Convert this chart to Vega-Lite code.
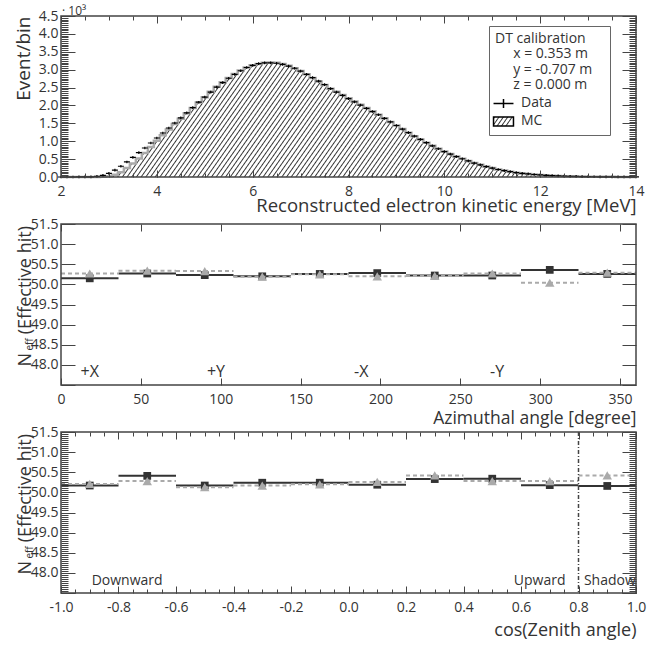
{
"$schema":"https://vega.github.io/schema/vega-lite/v6.json",
"background":"white",
"padding":{"left":14,"top":5,"right":5,"bottom":5},
"datasets":{
"energy":[
{"e":2,"MC":0,"Data":0},{"e":2.125,"MC":0,"Data":0},{"e":2.25,"MC":0,"Data":0},{"e":2.375,"MC":0,"Data":0.001},{"e":2.5,"MC":0,"Data":0.002},{"e":2.625,"MC":0.001,"Data":0.005},{"e":2.75,"MC":0.002,"Data":0.015},{"e":2.875,"MC":0.008,"Data":0.045},
{"e":3,"MC":0.02,"Data":0.1},{"e":3.125,"MC":0.06,"Data":0.19},{"e":3.25,"MC":0.13,"Data":0.3},{"e":3.375,"MC":0.25,"Data":0.42},{"e":3.5,"MC":0.38,"Data":0.55},{"e":3.625,"MC":0.52,"Data":0.68},{"e":3.75,"MC":0.67,"Data":0.81},{"e":3.875,"MC":0.84,"Data":0.95},
{"e":4,"MC":1.01,"Data":1.09},{"e":4.125,"MC":1.17,"Data":1.23},{"e":4.25,"MC":1.33,"Data":1.37},{"e":4.375,"MC":1.48,"Data":1.51},{"e":4.5,"MC":1.63,"Data":1.65},{"e":4.625,"MC":1.78,"Data":1.79},{"e":4.75,"MC":1.93,"Data":1.94},{"e":4.875,"MC":2.08,"Data":2.09},
{"e":5,"MC":2.23,"Data":2.23},{"e":5.125,"MC":2.38,"Data":2.37},{"e":5.25,"MC":2.52,"Data":2.51},{"e":5.375,"MC":2.65,"Data":2.64},{"e":5.5,"MC":2.77,"Data":2.76},{"e":5.625,"MC":2.88,"Data":2.87},{"e":5.75,"MC":2.98,"Data":2.97},{"e":5.875,"MC":3.06,"Data":3.06},
{"e":6,"MC":3.12,"Data":3.12},{"e":6.125,"MC":3.16,"Data":3.17},{"e":6.25,"MC":3.19,"Data":3.19},{"e":6.375,"MC":3.2,"Data":3.19},{"e":6.5,"MC":3.19,"Data":3.18},{"e":6.625,"MC":3.16,"Data":3.15},{"e":6.75,"MC":3.11,"Data":3.1},{"e":6.875,"MC":3.04,"Data":3.04},
{"e":7,"MC":2.96,"Data":2.96},{"e":7.125,"MC":2.87,"Data":2.87},{"e":7.25,"MC":2.77,"Data":2.78},{"e":7.375,"MC":2.67,"Data":2.68},{"e":7.5,"MC":2.57,"Data":2.58},{"e":7.625,"MC":2.47,"Data":2.47},{"e":7.75,"MC":2.38,"Data":2.37},{"e":7.875,"MC":2.29,"Data":2.28},
{"e":8,"MC":2.2,"Data":2.19},{"e":8.125,"MC":2.11,"Data":2.1},{"e":8.25,"MC":2.02,"Data":2.01},{"e":8.375,"MC":1.93,"Data":1.92},{"e":8.5,"MC":1.84,"Data":1.83},{"e":8.625,"MC":1.74,"Data":1.74},{"e":8.75,"MC":1.64,"Data":1.64},{"e":8.875,"MC":1.54,"Data":1.54},
{"e":9,"MC":1.44,"Data":1.44},{"e":9.125,"MC":1.34,"Data":1.34},{"e":9.25,"MC":1.24,"Data":1.24},{"e":9.375,"MC":1.14,"Data":1.14},{"e":9.5,"MC":1.05,"Data":1.05},{"e":9.625,"MC":0.96,"Data":0.96},{"e":9.75,"MC":0.87,"Data":0.87},{"e":9.875,"MC":0.79,"Data":0.79},
{"e":10,"MC":0.71,"Data":0.71},{"e":10.125,"MC":0.64,"Data":0.64},{"e":10.25,"MC":0.57,"Data":0.57},{"e":10.375,"MC":0.51,"Data":0.51},{"e":10.5,"MC":0.45,"Data":0.45},{"e":10.625,"MC":0.39,"Data":0.39},{"e":10.75,"MC":0.34,"Data":0.34},{"e":10.875,"MC":0.29,"Data":0.29},
{"e":11,"MC":0.25,"Data":0.25},{"e":11.125,"MC":0.21,"Data":0.21},{"e":11.25,"MC":0.18,"Data":0.18},{"e":11.375,"MC":0.15,"Data":0.15},{"e":11.5,"MC":0.12,"Data":0.12},{"e":11.625,"MC":0.1,"Data":0.1},{"e":11.75,"MC":0.085,"Data":0.085},{"e":11.875,"MC":0.07,"Data":0.07},
{"e":12,"MC":0.057,"Data":0.057},{"e":12.125,"MC":0.047,"Data":0.046},{"e":12.25,"MC":0.037,"Data":0.037},{"e":12.375,"MC":0.03,"Data":0.03},{"e":12.5,"MC":0.024,"Data":0.024},{"e":12.625,"MC":0.019,"Data":0.019},{"e":12.75,"MC":0.015,"Data":0.015},{"e":12.875,"MC":0.012,"Data":0.012},
{"e":13,"MC":0.009,"Data":0.009},{"e":13.125,"MC":0.007,"Data":0.007},{"e":13.25,"MC":0.006,"Data":0.006},{"e":13.375,"MC":0.005,"Data":0.005},{"e":13.5,"MC":0.004,"Data":0.004},{"e":13.625,"MC":0.003,"Data":0.003},{"e":13.75,"MC":0.003,"Data":0.003},{"e":13.875,"MC":0.002,"Data":0.002},{"e":14,"MC":0.002,"Data":0.002}
],
"phi":[
{"lo":0,"hi":36,"c":18,"Data":50.15,"MC":50.27},
{"lo":36,"hi":72,"c":54,"Data":50.27,"MC":50.34},
{"lo":72,"hi":108,"c":90,"Data":50.23,"MC":50.33},
{"lo":108,"hi":144,"c":126,"Data":50.2,"MC":50.19},
{"lo":144,"hi":180,"c":162,"Data":50.26,"MC":50.25},
{"lo":180,"hi":216,"c":198,"Data":50.28,"MC":50.2},
{"lo":216,"hi":252,"c":234,"Data":50.22,"MC":50.21},
{"lo":252,"hi":288,"c":270,"Data":50.22,"MC":50.27},
{"lo":288,"hi":324,"c":306,"Data":50.36,"MC":50.04},
{"lo":324,"hi":360,"c":342,"Data":50.26,"MC":50.29}
],
"cosz":[
{"lo":-1,"hi":-0.8,"c":-0.9,"Data":50.17,"MC":50.21},
{"lo":-0.8,"hi":-0.6,"c":-0.7,"Data":50.41,"MC":50.28},
{"lo":-0.6,"hi":-0.4,"c":-0.5,"Data":50.17,"MC":50.13},
{"lo":-0.4,"hi":-0.2,"c":-0.3,"Data":50.24,"MC":50.17},
{"lo":-0.2,"hi":0,"c":-0.1,"Data":50.24,"MC":50.2},
{"lo":0,"hi":0.2,"c":0.1,"Data":50.19,"MC":50.26},
{"lo":0.2,"hi":0.4,"c":0.3,"Data":50.33,"MC":50.42},
{"lo":0.4,"hi":0.6,"c":0.5,"Data":50.34,"MC":50.28},
{"lo":0.6,"hi":0.8,"c":0.7,"Data":50.18,"MC":50.28},
{"lo":0.8,"hi":1,"c":0.9,"Data":50.16,"MC":50.42}
],
"phiLab":[{"t":"+X","pos":18},{"t":"+Y","pos":97},{"t":"-X","pos":188},{"t":"-Y","pos":273}],
"czLab":[{"t":"Downward","pos":-0.77},{"t":"Upward","pos":0.665},{"t":"Shadow","pos":0.909}],
"cut":[{"cz":0.8}]
},
"vconcat":[
{
"width":575,"height":161,
"data":{"name":"energy"},
"layer":[
{"mark":{"type":"area","interpolate":"step","opacity":1,
"fill":{"gradient":"linear","x1":0,"y1":0,"x2":1,"y2":0.14,"stops":[
{"offset":0,"color":"#fff"},{"offset":0.002,"color":"#333"},{"offset":0.004,"color":"#fff"},
{"offset":0.008,"color":"#fff"},{"offset":0.01,"color":"#333"},{"offset":0.012,"color":"#fff"},
{"offset":0.016,"color":"#fff"},{"offset":0.018,"color":"#333"},{"offset":0.02,"color":"#fff"},
{"offset":0.024,"color":"#fff"},{"offset":0.026,"color":"#333"},{"offset":0.028,"color":"#fff"},
{"offset":0.032,"color":"#fff"},{"offset":0.034,"color":"#333"},{"offset":0.036,"color":"#fff"},
{"offset":0.04,"color":"#fff"},{"offset":0.042,"color":"#333"},{"offset":0.044,"color":"#fff"},
{"offset":0.048,"color":"#fff"},{"offset":0.05,"color":"#333"},{"offset":0.052,"color":"#fff"},
{"offset":0.056,"color":"#fff"},{"offset":0.058,"color":"#333"},{"offset":0.06,"color":"#fff"},
{"offset":0.064,"color":"#fff"},{"offset":0.066,"color":"#333"},{"offset":0.068,"color":"#fff"},
{"offset":0.072,"color":"#fff"},{"offset":0.074,"color":"#333"},{"offset":0.076,"color":"#fff"},
{"offset":0.08,"color":"#fff"},{"offset":0.082,"color":"#333"},{"offset":0.084,"color":"#fff"},
{"offset":0.088,"color":"#fff"},{"offset":0.09,"color":"#333"},{"offset":0.092,"color":"#fff"},
{"offset":0.096,"color":"#fff"},{"offset":0.098,"color":"#333"},{"offset":0.1,"color":"#fff"},
{"offset":0.104,"color":"#fff"},{"offset":0.106,"color":"#333"},{"offset":0.108,"color":"#fff"},
{"offset":0.112,"color":"#fff"},{"offset":0.114,"color":"#333"},{"offset":0.116,"color":"#fff"},
{"offset":0.12,"color":"#fff"},{"offset":0.122,"color":"#333"},{"offset":0.124,"color":"#fff"},
{"offset":0.128,"color":"#fff"},{"offset":0.13,"color":"#333"},{"offset":0.132,"color":"#fff"},
{"offset":0.136,"color":"#fff"},{"offset":0.138,"color":"#333"},{"offset":0.14,"color":"#fff"},
{"offset":0.144,"color":"#fff"},{"offset":0.146,"color":"#333"},{"offset":0.148,"color":"#fff"},
{"offset":0.152,"color":"#fff"},{"offset":0.154,"color":"#333"},{"offset":0.156,"color":"#fff"},
{"offset":0.16,"color":"#fff"},{"offset":0.162,"color":"#333"},{"offset":0.164,"color":"#fff"},
{"offset":0.168,"color":"#fff"},{"offset":0.17,"color":"#333"},{"offset":0.172,"color":"#fff"},
{"offset":0.176,"color":"#fff"},{"offset":0.178,"color":"#333"},{"offset":0.18,"color":"#fff"},
{"offset":0.184,"color":"#fff"},{"offset":0.186,"color":"#333"},{"offset":0.188,"color":"#fff"},
{"offset":0.192,"color":"#fff"},{"offset":0.194,"color":"#333"},{"offset":0.196,"color":"#fff"},
{"offset":0.2,"color":"#fff"},{"offset":0.202,"color":"#333"},{"offset":0.204,"color":"#fff"},
{"offset":0.208,"color":"#fff"},{"offset":0.21,"color":"#333"},{"offset":0.212,"color":"#fff"},
{"offset":0.216,"color":"#fff"},{"offset":0.218,"color":"#333"},{"offset":0.22,"color":"#fff"},
{"offset":0.224,"color":"#fff"},{"offset":0.226,"color":"#333"},{"offset":0.228,"color":"#fff"},
{"offset":0.232,"color":"#fff"},{"offset":0.234,"color":"#333"},{"offset":0.236,"color":"#fff"},
{"offset":0.24,"color":"#fff"},{"offset":0.242,"color":"#333"},{"offset":0.244,"color":"#fff"},
{"offset":0.248,"color":"#fff"},{"offset":0.25,"color":"#333"},{"offset":0.252,"color":"#fff"},
{"offset":0.256,"color":"#fff"},{"offset":0.258,"color":"#333"},{"offset":0.26,"color":"#fff"},
{"offset":0.264,"color":"#fff"},{"offset":0.266,"color":"#333"},{"offset":0.268,"color":"#fff"},
{"offset":0.272,"color":"#fff"},{"offset":0.274,"color":"#333"},{"offset":0.276,"color":"#fff"},
{"offset":0.28,"color":"#fff"},{"offset":0.282,"color":"#333"},{"offset":0.284,"color":"#fff"},
{"offset":0.288,"color":"#fff"},{"offset":0.29,"color":"#333"},{"offset":0.292,"color":"#fff"},
{"offset":0.296,"color":"#fff"},{"offset":0.298,"color":"#333"},{"offset":0.3,"color":"#fff"},
{"offset":0.304,"color":"#fff"},{"offset":0.306,"color":"#333"},{"offset":0.308,"color":"#fff"},
{"offset":0.312,"color":"#fff"},{"offset":0.314,"color":"#333"},{"offset":0.316,"color":"#fff"},
{"offset":0.32,"color":"#fff"},{"offset":0.322,"color":"#333"},{"offset":0.324,"color":"#fff"},
{"offset":0.328,"color":"#fff"},{"offset":0.33,"color":"#333"},{"offset":0.332,"color":"#fff"},
{"offset":0.336,"color":"#fff"},{"offset":0.338,"color":"#333"},{"offset":0.34,"color":"#fff"},
{"offset":0.344,"color":"#fff"},{"offset":0.346,"color":"#333"},{"offset":0.348,"color":"#fff"},
{"offset":0.352,"color":"#fff"},{"offset":0.354,"color":"#333"},{"offset":0.356,"color":"#fff"},
{"offset":0.36,"color":"#fff"},{"offset":0.362,"color":"#333"},{"offset":0.364,"color":"#fff"},
{"offset":0.368,"color":"#fff"},{"offset":0.37,"color":"#333"},{"offset":0.372,"color":"#fff"},
{"offset":0.376,"color":"#fff"},{"offset":0.378,"color":"#333"},{"offset":0.38,"color":"#fff"},
{"offset":0.384,"color":"#fff"},{"offset":0.386,"color":"#333"},{"offset":0.388,"color":"#fff"},
{"offset":0.392,"color":"#fff"},{"offset":0.394,"color":"#333"},{"offset":0.396,"color":"#fff"},
{"offset":0.4,"color":"#fff"},{"offset":0.402,"color":"#333"},{"offset":0.404,"color":"#fff"},
{"offset":0.408,"color":"#fff"},{"offset":0.41,"color":"#333"},{"offset":0.412,"color":"#fff"},
{"offset":0.416,"color":"#fff"},{"offset":0.418,"color":"#333"},{"offset":0.42,"color":"#fff"},
{"offset":0.424,"color":"#fff"},{"offset":0.426,"color":"#333"},{"offset":0.428,"color":"#fff"},
{"offset":0.432,"color":"#fff"},{"offset":0.434,"color":"#333"},{"offset":0.436,"color":"#fff"},
{"offset":0.44,"color":"#fff"},{"offset":0.442,"color":"#333"},{"offset":0.444,"color":"#fff"},
{"offset":0.448,"color":"#fff"},{"offset":0.45,"color":"#333"},{"offset":0.452,"color":"#fff"},
{"offset":0.456,"color":"#fff"},{"offset":0.458,"color":"#333"},{"offset":0.46,"color":"#fff"},
{"offset":0.464,"color":"#fff"},{"offset":0.466,"color":"#333"},{"offset":0.468,"color":"#fff"},
{"offset":0.472,"color":"#fff"},{"offset":0.474,"color":"#333"},{"offset":0.476,"color":"#fff"},
{"offset":0.48,"color":"#fff"},{"offset":0.482,"color":"#333"},{"offset":0.484,"color":"#fff"},
{"offset":0.488,"color":"#fff"},{"offset":0.49,"color":"#333"},{"offset":0.492,"color":"#fff"},
{"offset":0.496,"color":"#fff"},{"offset":0.498,"color":"#333"},{"offset":0.5,"color":"#fff"},
{"offset":0.504,"color":"#fff"},{"offset":0.506,"color":"#333"},{"offset":0.508,"color":"#fff"},
{"offset":0.512,"color":"#fff"},{"offset":0.514,"color":"#333"},{"offset":0.516,"color":"#fff"},
{"offset":0.52,"color":"#fff"},{"offset":0.522,"color":"#333"},{"offset":0.524,"color":"#fff"},
{"offset":0.528,"color":"#fff"},{"offset":0.53,"color":"#333"},{"offset":0.532,"color":"#fff"},
{"offset":0.536,"color":"#fff"},{"offset":0.538,"color":"#333"},{"offset":0.54,"color":"#fff"},
{"offset":0.544,"color":"#fff"},{"offset":0.546,"color":"#333"},{"offset":0.548,"color":"#fff"},
{"offset":0.552,"color":"#fff"},{"offset":0.554,"color":"#333"},{"offset":0.556,"color":"#fff"},
{"offset":0.56,"color":"#fff"},{"offset":0.562,"color":"#333"},{"offset":0.564,"color":"#fff"},
{"offset":0.568,"color":"#fff"},{"offset":0.57,"color":"#333"},{"offset":0.572,"color":"#fff"},
{"offset":0.576,"color":"#fff"},{"offset":0.578,"color":"#333"},{"offset":0.58,"color":"#fff"},
{"offset":0.584,"color":"#fff"},{"offset":0.586,"color":"#333"},{"offset":0.588,"color":"#fff"},
{"offset":0.592,"color":"#fff"},{"offset":0.594,"color":"#333"},{"offset":0.596,"color":"#fff"},
{"offset":0.6,"color":"#fff"},{"offset":0.602,"color":"#333"},{"offset":0.604,"color":"#fff"},
{"offset":0.608,"color":"#fff"},{"offset":0.61,"color":"#333"},{"offset":0.612,"color":"#fff"},
{"offset":0.616,"color":"#fff"},{"offset":0.618,"color":"#333"},{"offset":0.62,"color":"#fff"},
{"offset":0.624,"color":"#fff"},{"offset":0.626,"color":"#333"},{"offset":0.628,"color":"#fff"},
{"offset":0.632,"color":"#fff"},{"offset":0.634,"color":"#333"},{"offset":0.636,"color":"#fff"},
{"offset":0.64,"color":"#fff"},{"offset":0.642,"color":"#333"},{"offset":0.644,"color":"#fff"},
{"offset":0.648,"color":"#fff"},{"offset":0.65,"color":"#333"},{"offset":0.652,"color":"#fff"},
{"offset":0.656,"color":"#fff"},{"offset":0.658,"color":"#333"},{"offset":0.66,"color":"#fff"},
{"offset":0.664,"color":"#fff"},{"offset":0.666,"color":"#333"},{"offset":0.668,"color":"#fff"},
{"offset":0.672,"color":"#fff"},{"offset":0.674,"color":"#333"},{"offset":0.676,"color":"#fff"},
{"offset":0.68,"color":"#fff"},{"offset":0.682,"color":"#333"},{"offset":0.684,"color":"#fff"},
{"offset":0.688,"color":"#fff"},{"offset":0.69,"color":"#333"},{"offset":0.692,"color":"#fff"},
{"offset":0.696,"color":"#fff"},{"offset":0.698,"color":"#333"},{"offset":0.7,"color":"#fff"},
{"offset":0.704,"color":"#fff"},{"offset":0.706,"color":"#333"},{"offset":0.708,"color":"#fff"},
{"offset":0.712,"color":"#fff"},{"offset":0.714,"color":"#333"},{"offset":0.716,"color":"#fff"},
{"offset":0.72,"color":"#fff"},{"offset":0.722,"color":"#333"},{"offset":0.724,"color":"#fff"},
{"offset":0.728,"color":"#fff"},{"offset":0.73,"color":"#333"},{"offset":0.732,"color":"#fff"},
{"offset":0.736,"color":"#fff"},{"offset":0.738,"color":"#333"},{"offset":0.74,"color":"#fff"},
{"offset":0.744,"color":"#fff"},{"offset":0.746,"color":"#333"},{"offset":0.748,"color":"#fff"},
{"offset":0.752,"color":"#fff"},{"offset":0.754,"color":"#333"},{"offset":0.756,"color":"#fff"},
{"offset":0.76,"color":"#fff"},{"offset":0.762,"color":"#333"},{"offset":0.764,"color":"#fff"},
{"offset":0.768,"color":"#fff"},{"offset":0.77,"color":"#333"},{"offset":0.772,"color":"#fff"},
{"offset":0.776,"color":"#fff"},{"offset":0.778,"color":"#333"},{"offset":0.78,"color":"#fff"},
{"offset":0.784,"color":"#fff"},{"offset":0.786,"color":"#333"},{"offset":0.788,"color":"#fff"},
{"offset":0.792,"color":"#fff"},{"offset":0.794,"color":"#333"},{"offset":0.796,"color":"#fff"},
{"offset":0.8,"color":"#fff"},{"offset":0.802,"color":"#333"},{"offset":0.804,"color":"#fff"},
{"offset":0.808,"color":"#fff"},{"offset":0.81,"color":"#333"},{"offset":0.812,"color":"#fff"},
{"offset":0.816,"color":"#fff"},{"offset":0.818,"color":"#333"},{"offset":0.82,"color":"#fff"},
{"offset":0.824,"color":"#fff"},{"offset":0.826,"color":"#333"},{"offset":0.828,"color":"#fff"},
{"offset":0.832,"color":"#fff"},{"offset":0.834,"color":"#333"},{"offset":0.836,"color":"#fff"},
{"offset":0.84,"color":"#fff"},{"offset":0.842,"color":"#333"},{"offset":0.844,"color":"#fff"},
{"offset":0.848,"color":"#fff"},{"offset":0.85,"color":"#333"},{"offset":0.852,"color":"#fff"},
{"offset":0.856,"color":"#fff"},{"offset":0.858,"color":"#333"},{"offset":0.86,"color":"#fff"},
{"offset":0.864,"color":"#fff"},{"offset":0.866,"color":"#333"},{"offset":0.868,"color":"#fff"},
{"offset":0.872,"color":"#fff"},{"offset":0.874,"color":"#333"},{"offset":0.876,"color":"#fff"},
{"offset":0.88,"color":"#fff"},{"offset":0.882,"color":"#333"},{"offset":0.884,"color":"#fff"},
{"offset":0.888,"color":"#fff"},{"offset":0.89,"color":"#333"},{"offset":0.892,"color":"#fff"},
{"offset":0.896,"color":"#fff"},{"offset":0.898,"color":"#333"},{"offset":0.9,"color":"#fff"},
{"offset":0.904,"color":"#fff"},{"offset":0.906,"color":"#333"},{"offset":0.908,"color":"#fff"},
{"offset":0.912,"color":"#fff"},{"offset":0.914,"color":"#333"},{"offset":0.916,"color":"#fff"},
{"offset":0.92,"color":"#fff"},{"offset":0.922,"color":"#333"},{"offset":0.924,"color":"#fff"},
{"offset":0.928,"color":"#fff"},{"offset":0.93,"color":"#333"},{"offset":0.932,"color":"#fff"},
{"offset":0.936,"color":"#fff"},{"offset":0.938,"color":"#333"},{"offset":0.94,"color":"#fff"},
{"offset":0.944,"color":"#fff"},{"offset":0.946,"color":"#333"},{"offset":0.948,"color":"#fff"},
{"offset":0.952,"color":"#fff"},{"offset":0.954,"color":"#333"},{"offset":0.956,"color":"#fff"},
{"offset":0.96,"color":"#fff"},{"offset":0.962,"color":"#333"},{"offset":0.964,"color":"#fff"},
{"offset":0.968,"color":"#fff"},{"offset":0.97,"color":"#333"},{"offset":0.972,"color":"#fff"},
{"offset":0.976,"color":"#fff"},{"offset":0.978,"color":"#333"},{"offset":0.98,"color":"#fff"},
{"offset":0.984,"color":"#fff"},{"offset":0.986,"color":"#333"},{"offset":0.988,"color":"#fff"},
{"offset":0.992,"color":"#fff"},{"offset":0.994,"color":"#333"},{"offset":0.996,"color":"#fff"}
]}},
"encoding":{
"x":{"field":"e","type":"quantitative","scale":{"domain":[2,14],"nice":false,"zero":false},
"axis":{"orient":"bottom","tickCount":6,"ticks":false,"domain":false,"grid":true,"gridDash":[7,147,7,3000],"zindex":1,"labelPadding":7.5,"format":"d","title":"Reconstructed electron kinetic energy [MeV]","titleFontSize":18.5,"titleAnchor":"end","titleY":34,"titleBaseline":"alphabetic"}},
"y":{"field":"MC","type":"quantitative","scale":{"domain":[0,4.5],"nice":false},
"axis":{"orient":"left","tickCount":9,"ticks":false,"domain":false,"grid":true,"gridDash":[14,547,14,3000],"zindex":1,"labelPadding":3,"format":".1f","title":"Event/bin","titleFontSize":19,"titleAnchor":"end","titleX":-32,"titleBaseline":"alphabetic"}}
}},
{"mark":{"type":"line","interpolate":"step","color":"#aaaaaa","strokeWidth":2.5},
"encoding":{
"x":{"field":"e","type":"quantitative","scale":{"domain":[2,14],"nice":false,"zero":false},
"axis":{"orient":"bottom","tickCount":24,"ticks":false,"labels":false,"domain":false,"title":null,"grid":true,"gridDash":[4,153,4,3000],"zindex":1}},
"y":{"field":"MC","type":"quantitative","scale":{"domain":[0,4.5],"nice":false},
"axis":{"orient":"left","tickCount":90,"ticks":false,"labels":false,"domain":false,"title":null,"grid":true,"gridDash":[7,561,7,3000],"zindex":1}}
}},
{"transform":[{"fold":["Data"],"as":["series","v"]}],
"mark":{"type":"point","filled":true,"stroke":"#000","strokeWidth":1.2,"size":20,"opacity":1,
"fill":{"gradient":"linear","x1":0,"y1":0,"x2":1,"y2":0.315,"stops":[
{"offset":0,"color":"#fff"},{"offset":0.053,"color":"#333"},{"offset":0.106,"color":"#fff"},
{"offset":0.2,"color":"#fff"},{"offset":0.253,"color":"#333"},{"offset":0.306,"color":"#fff"},
{"offset":0.4,"color":"#fff"},{"offset":0.453,"color":"#333"},{"offset":0.506,"color":"#fff"},
{"offset":0.6,"color":"#fff"},{"offset":0.653,"color":"#333"},{"offset":0.706,"color":"#fff"},
{"offset":0.8,"color":"#fff"},{"offset":0.853,"color":"#333"},{"offset":0.906,"color":"#fff"}]}},
"encoding":{
"x":{"field":"e","type":"quantitative","scale":{"domain":[2,14],"nice":false,"zero":false},"axis":null},
"y":{"field":"v","type":"quantitative","scale":{"domain":[0,4.5],"nice":false},"axis":null},
"shape":{"field":"series","type":"nominal","scale":{"domain":["Data","MC"],"range":["M-1.33,0H1.33M0,-0.6V0.6","M-1.33,-0.6H1.33V0.6H-1.33Z"]},
"legend":{"orient":"none","legendX":428,"legendY":10,
"title":["DT calibration","\u200b\u00a0\u00a0\u00a0\u00a0\u00a0x = 0.353 m","\u200b\u00a0\u00a0\u00a0\u00a0\u00a0y = -0.707 m\u00a0\u00a0\u00a0\u200b","\u200b\u00a0\u00a0\u00a0\u00a0\u00a0z = 0.000 m"],
"titleFontSize":14,"titleFontWeight":"normal","titleColor":"#333","titleFont":"Open Sans","titleLineHeight":15.3,"titlePadding":3,"titleAnchor":"start","titleAlign":"left",
"labelFontSize":14,"labelFont":"Open Sans","labelColor":"#333","labelOffset":9,
"strokeColor":"#666","fillColor":"#fff","padding":6,"rowPadding":2,"symbolSize":225,"zindex":2}
}
}},
{"data":{"values":[{}]},
"mark":{"type":"text","text":"· 10³","align":"left","baseline":"alphabetic","dx":1,"dy":-1,"fontSize":12,"color":"#333","font":"Open Sans"},
"encoding":{"x":{"datum":2,"type":"quantitative","axis":null},"y":{"datum":4.5,"type":"quantitative","axis":null}}},
{"data":{"values":[{}]},
"mark":{"type":"rect","fill":"transparent","stroke":"#444","strokeWidth":1.5},
"encoding":{"x":{"datum":2,"type":"quantitative","axis":null},"x2":{"datum":14},"y":{"datum":0,"type":"quantitative","axis":null},"y2":{"datum":4.5}}}
],
"resolve":{"axis":{"x":"independent","y":"independent"}}
},
{
"width":575,"height":161,
"title":{"text":"eff","orient":"left","anchor":"start","frame":"group","fontSize":10,"fontWeight":"normal","color":"#333","baseline":"alphabetic","dx":34.5,"offset":-27},
"data":{"name":"phi"},
"layer":[
{"mark":{"type":"rule","color":"#333","strokeWidth":2},
"encoding":{
"x":{"field":"lo","type":"quantitative","scale":{"domain":[0,360],"nice":false,"zero":false},
"axis":{"orient":"bottom","tickCount":7,"ticks":false,"domain":false,"grid":true,"gridDash":[7,147,7,3000],"zindex":1,"labelPadding":7.5,"format":"d","title":"Azimuthal angle [degree]","titleFontSize":17.5,"titleAnchor":"end","titleY":38,"titleBaseline":"alphabetic"}},
"x2":{"field":"hi"},
"y":{"field":"Data","type":"quantitative","scale":{"domain":[47.5,51.5],"nice":false,"zero":false},
"axis":{"orient":"left","tickCount":8,"ticks":false,"domain":false,"grid":true,"gridDash":[14,547,14,3000],"zindex":1,"labelPadding":3,"labelExpr":"datum.value < 47.6 ? '' : format(datum.value,'.1f')","title":"N\u00a0\u00a0\u00a0\u00a0(Effective hit)","titleFontSize":18,"titleAnchor":"start","titleY":142,"titleX":-31,"titleBaseline":"alphabetic"}}
}},
{"mark":{"type":"point","shape":"square","filled":true,"color":"#333","size":60,"opacity":1},
"encoding":{
"x":{"field":"c","type":"quantitative","scale":{"domain":[0,360],"nice":false,"zero":false},"axis":null},
"y":{"field":"Data","type":"quantitative","scale":{"domain":[47.5,51.5],"nice":false,"zero":false},"axis":null}
}},
{"mark":{"type":"rule","color":"#aaaaaa","strokeWidth":2,"strokeDash":[4,3]},
"encoding":{"x":{"field":"lo","type":"quantitative","axis":null},"x2":{"field":"hi"},"y":{"field":"MC","type":"quantitative","axis":null}}},
{"mark":{"type":"point","shape":"triangle-up","filled":true,"color":"#aaaaaa","size":90,"opacity":1},
"encoding":{"x":{"field":"c","type":"quantitative","axis":null},"y":{"field":"MC","type":"quantitative","axis":null}}},
{"data":{"name":"phiLab"},"mark":{"type":"text","fontSize":16,"color":"#333","font":"Open Sans","baseline":"middle"},
"encoding":{"x":{"field":"pos","type":"quantitative","axis":null},"y":{"datum":47.83,"type":"quantitative","axis":null},"text":{"field":"t"}}},
{"data":{"values":[{}]},
"mark":{"type":"rect","fill":"transparent","stroke":"#444","strokeWidth":1.5},
"encoding":{"x":{"datum":0,"type":"quantitative","axis":null},"x2":{"datum":360},"y":{"datum":47.5,"type":"quantitative","axis":null},"y2":{"datum":51.5}}}
],
"resolve":{"axis":{"x":"independent","y":"independent"}}
},
{
"width":575,"height":161,
"title":{"text":"eff","orient":"left","anchor":"start","frame":"group","fontSize":10,"fontWeight":"normal","color":"#333","baseline":"alphabetic","dx":34.5,"offset":-27},
"data":{"name":"cosz"},
"layer":[
{"mark":{"type":"rule","color":"#333","strokeWidth":2},
"encoding":{
"x":{"field":"lo","type":"quantitative","scale":{"domain":[-1,1],"nice":false,"zero":false},
"axis":{"orient":"bottom","tickCount":10,"ticks":false,"domain":false,"grid":true,"gridDash":[7,147,7,3000],"zindex":1,"labelPadding":7.5,"labelExpr":"replace(format(datum.value,'.1f'),'\u2212','-')","title":"cos(Zenith angle)","titleFontSize":18,"titleAnchor":"end","titleY":42,"titleBaseline":"alphabetic"}},
"x2":{"field":"hi"},
"y":{"field":"Data","type":"quantitative","scale":{"domain":[47.5,51.5],"nice":false,"zero":false},
"axis":{"orient":"left","tickCount":8,"ticks":false,"domain":false,"grid":true,"gridDash":[14,547,14,3000],"zindex":1,"labelPadding":3,"labelExpr":"datum.value < 47.6 ? '' : format(datum.value,'.1f')","title":"N\u00a0\u00a0\u00a0\u00a0(Effective hit)","titleFontSize":18,"titleAnchor":"start","titleY":142,"titleX":-31,"titleBaseline":"alphabetic"}}
}},
{"mark":{"type":"point","shape":"square","filled":true,"color":"#333","size":60,"opacity":1},
"encoding":{
"x":{"field":"c","type":"quantitative","scale":{"domain":[-1,1],"nice":false,"zero":false},
"axis":{"orient":"bottom","tickCount":40,"ticks":false,"labels":false,"domain":false,"title":null,"grid":true,"gridDash":[4,153,4,3000],"zindex":1}},
"y":{"field":"Data","type":"quantitative","scale":{"domain":[47.5,51.5],"nice":false,"zero":false},
"axis":{"orient":"left","tickCount":80,"ticks":false,"labels":false,"domain":false,"title":null,"grid":true,"gridDash":[7,561,7,3000],"zindex":1}}
}},
{"mark":{"type":"rule","color":"#aaaaaa","strokeWidth":2,"strokeDash":[4,3]},
"encoding":{"x":{"field":"lo","type":"quantitative","axis":null},"x2":{"field":"hi"},"y":{"field":"MC","type":"quantitative","axis":null}}},
{"mark":{"type":"point","shape":"triangle-up","filled":true,"color":"#aaaaaa","size":90,"opacity":1},
"encoding":{"x":{"field":"c","type":"quantitative","axis":null},"y":{"field":"MC","type":"quantitative","axis":null}}},
{"data":{"name":"cut"},"mark":{"type":"rule","color":"#444","strokeWidth":1.5,"strokeDash":[4,2,1,2]},
"encoding":{"x":{"field":"cz","type":"quantitative","axis":null}}},
{"data":{"name":"czLab"},"mark":{"type":"text","fontSize":14,"color":"#333","font":"Open Sans","baseline":"middle"},
"encoding":{"x":{"field":"pos","type":"quantitative","axis":null},"y":{"datum":47.8,"type":"quantitative","axis":null},"text":{"field":"t"}}},
{"data":{"values":[{}]},
"mark":{"type":"rect","fill":"transparent","stroke":"#444","strokeWidth":1.5},
"encoding":{"x":{"datum":-1,"type":"quantitative","axis":null},"x2":{"datum":1},"y":{"datum":47.5,"type":"quantitative","axis":null},"y2":{"datum":51.5}}}
],
"resolve":{"axis":{"x":"independent","y":"independent"}}
}
],
"spacing":47,
"bounds":"flush",
"config":{
"font":"Open Sans",
"view":{"stroke":null},
"title":{"font":"Open Sans","color":"#333"},
"axis":{"labelFont":"Open Sans","labelFontSize":14,"labelColor":"#333","titleFont":"Open Sans","titleFontSize":17,"titleFontWeight":"normal","titleColor":"#333","grid":false,"gridColor":"#444","gridWidth":1,"gridOpacity":1,"labelOverlap":false,"labelFlush":false,"labelBound":false}
}
}
